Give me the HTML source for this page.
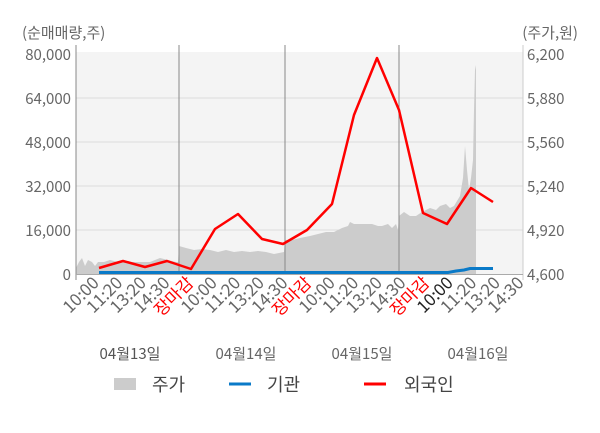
<!DOCTYPE html>
<html><head><meta charset="utf-8"><style>
body{margin:0;background:#fff;}
svg text{font-family:"Noto Sans CJK KR","Liberation Sans",sans-serif;}
</style></head><body>
<svg width="600" height="428" viewBox="0 0 600 428" xmlns="http://www.w3.org/2000/svg">
<rect x="76" y="52" width="447" height="222" fill="#f4f4f4"/>
<g stroke="#dcdcdc" stroke-width="1">
<line x1="76" y1="98" x2="523" y2="98"/><line x1="76" y1="142" x2="523" y2="142"/>
<line x1="76" y1="186" x2="523" y2="186"/><line x1="76" y1="230" x2="523" y2="230"/>
</g>
<path d="M76,274 L76,268 L79,262 L82,258 L85,266 L88,260 L92,262 L95,266 L98,262 L104,262 L110,260 L118,262 L124,260 L132,262 L140,262 L150,262 L160,258 L168,260 L176,262 L178,262 L179,246 L186,248 L194,250 L202,249 L210,250 L218,252 L226,250 L234,252 L242,251 L250,252 L258,251 L266,252 L274,254 L284,252 L285,240 L292,240 L300,238 L310,236 L318,234 L326,232 L334,232 L342,228 L348,226 L350,222 L354,224 L362,224 L372,224 L378,226 L382,226 L388,224 L392,228 L396,224 L398,230 L399,216 L404,212 L410,216 L416,216 L422,212 L430,208 L436,210 L440,206 L446,204 L450,208 L454,206 L460,196 L463,178 L465,146 L467,170 L469,190 L471,178 L473,160 L474,110 L475,70 L476,65 L476,274 Z" fill="#cccccc"/>
<g stroke="#888" stroke-width="1">
<line x1="179" y1="45" x2="179" y2="274"/><line x1="285" y1="45" x2="285" y2="274"/><line x1="399" y1="45" x2="399" y2="274"/>
<line x1="76" y1="45" x2="76" y2="280"/>
</g>
<line x1="523" y1="45" x2="523" y2="280" stroke="#ccc"/>
<line x1="76" y1="274.5" x2="523" y2="274.5" stroke="#aaa"/>
<polyline points="99,272.5 448,272.5 456,271 464,270 470,268.5 493,268.5" fill="none" stroke="#0a7ac8" stroke-width="3"/>
<polyline points="99,268 123,261 145,267 167,261 191,269 215,229 238,214 262,239 283,244 307,230 332,204 354,115 377,58 399,110 423,213 447,224 471,188 493,202" fill="none" stroke="#f00" stroke-width="2.5" stroke-linejoin="round"/>
<g font-size="15" fill="#666">
<text x="22" y="38">(순매매량,주)</text>
<text x="578" y="38" text-anchor="end">(주가,원)</text>
<g text-anchor="end">
<text x="71" y="60">80,000</text><text x="71" y="104">64,000</text><text x="71" y="148">48,000</text>
<text x="71" y="192">32,000</text><text x="71" y="236">16,000</text><text x="71" y="280">0</text>
</g>
<text x="527" y="60">6,200</text><text x="527" y="104">5,880</text><text x="527" y="148">5,560</text>
<text x="527" y="192">5,240</text><text x="527" y="236">4,920</text><text x="527" y="280">4,600</text>
</g>
<g font-size="17" fill="#666" text-anchor="end">
<text transform="translate(100,284) rotate(-45)">10:00</text>
<text transform="translate(123.6,284) rotate(-45)">11:20</text>
<text transform="translate(147.2,284) rotate(-45)">13:20</text>
<text transform="translate(170.8,284) rotate(-45)">14:30</text>
<text transform="translate(194.4,284) rotate(-45)" fill="#f00">장마감</text>
<text transform="translate(218,284) rotate(-45)">10:00</text>
<text transform="translate(241.6,284) rotate(-45)">11:20</text>
<text transform="translate(265.2,284) rotate(-45)">13:20</text>
<text transform="translate(288.8,284) rotate(-45)">14:30</text>
<text transform="translate(312.4,284) rotate(-45)" fill="#f00">장마감</text>
<text transform="translate(336,284) rotate(-45)">10:00</text>
<text transform="translate(359.6,284) rotate(-45)">11:20</text>
<text transform="translate(383.2,284) rotate(-45)">13:20</text>
<text transform="translate(406.8,284) rotate(-45)">14:30</text>
<text transform="translate(430.4,284) rotate(-45)" fill="#f00">장마감</text>
<text transform="translate(454,284) rotate(-45)" fill="#222">10:00</text>
<text transform="translate(477.6,284) rotate(-45)">11:20</text>
<text transform="translate(501.2,284) rotate(-45)">13:20</text>
<text transform="translate(524.8,284) rotate(-45)">14:30</text>
</g>
<g font-size="15" fill="#666" text-anchor="middle">
<text x="130" y="359" fill="#555">04월13일</text><text x="246" y="359">04월14일</text>
<text x="362" y="359">04월15일</text><text x="478" y="359">04월16일</text>
</g>
<rect x="114" y="378" width="22" height="12" fill="#ccc"/>
<line x1="229" y1="384" x2="251" y2="384" stroke="#0a7ac8" stroke-width="3"/>
<line x1="364" y1="384" x2="386" y2="384" stroke="#f00" stroke-width="3"/>
<g font-size="18" fill="#444">
<text x="152" y="391">주가</text><text x="267" y="391">기관</text><text x="404" y="391">외국인</text>
</g>
</svg>
</body></html>
